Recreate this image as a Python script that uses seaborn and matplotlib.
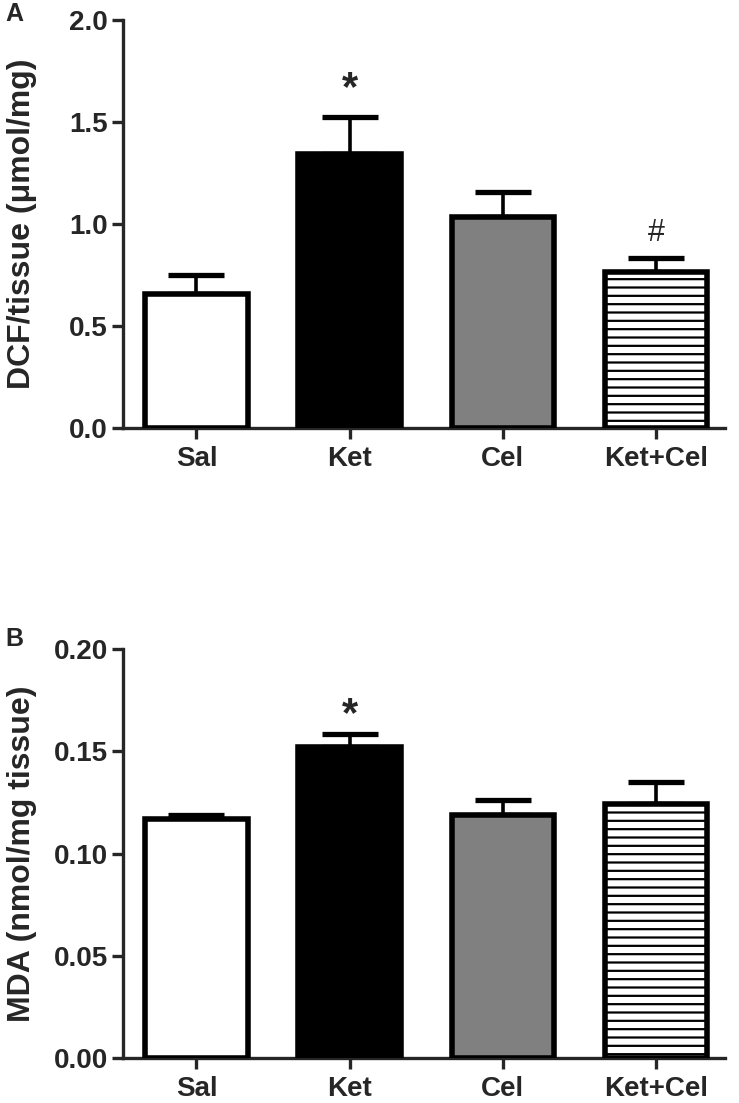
import numpy as np
import matplotlib
matplotlib.use("Agg")
import matplotlib.pyplot as plt
import seaborn as sns

groups = ["Sal", "Ket", "Cel", "Ket+Cel"]
bar_colors = ["white", "black", "#808080", "white"]

dcf_mean = [0.655, 1.343, 1.035, 0.765]
dcf_sem = [0.095, 0.183, 0.120, 0.067]
dcf_ticks = [0.0, 0.5, 1.0, 1.5, 2.0]

mda_mean = [0.117, 0.152, 0.119, 0.124]
mda_sem = [0.002, 0.0065, 0.007, 0.011]
mda_ticks = [0.00, 0.05, 0.10, 0.15, 0.20]

sns.set_style("ticks")
plt.rcParams["font.family"] = ["Liberation Sans", "DejaVu Sans"]
plt.rcParams["font.weight"] = "bold"
plt.rcParams["hatch.color"] = "black"
plt.rcParams["hatch.linewidth"] = 1.6


def draw_panel(ax, means, sems, yticks, ylabel, fmt, marks):
    sns.barplot(x=groups, y=means, hue=groups, palette=bar_colors, width=0.67,
                edgecolor="black", linewidth=4.0, legend=False, ax=ax, zorder=3)
    ax.patches[3].set_hatch("--")
    ax.errorbar(range(len(groups)), means, yerr=[np.zeros(len(sems)), sems],
                fmt="none", ecolor="black", elinewidth=2.6, capsize=20,
                capthick=3.8, zorder=2)
    ax.set_xlim(-0.48, 3.45)
    ax.set_ylim(yticks[0], yticks[-1])
    ax.set_yticks(yticks)
    ax.set_yticklabels([fmt.format(t) for t in yticks])
    sns.despine(ax=ax)
    for side in ["left", "bottom"]:
        ax.spines[side].set_linewidth(2.4)
    ax.tick_params(axis="both", direction="out", length=8, width=2.4,
                   labelsize=20, pad=3)
    ax.tick_params(axis="x", pad=5)
    for lab in ax.get_xticklabels() + ax.get_yticklabels():
        lab.set_fontweight("bold")
    ax.set_ylabel(ylabel, fontsize=23, fontweight="bold")
    ax.yaxis.set_label_coords(-0.142, 0.5)
    ax.set_xlabel("")
    for xi, yi, s, fs in marks:
        ax.text(xi, yi, s, ha="center", va="center", fontsize=fs,
                fontweight="bold" if s == "*" else "normal")


fig = plt.figure(figsize=(7.39, 11.03), dpi=100)
ax_a = fig.add_axes([0.1664, 0.6120, 0.8146, 0.3699])
ax_b = fig.add_axes([0.1664, 0.0408, 0.8146, 0.3708])

draw_panel(ax_a, dcf_mean, dcf_sem, dcf_ticks, "DCF/tissue (μmol/mg)", "{:.1f}",
           [(1, 1.66, "*", 30), (3, 0.955, "#", 22)])
draw_panel(ax_b, mda_mean, mda_sem, mda_ticks, "MDA (nmol/mg tissue)", "{:.2f}",
           [(1, 0.1675, "*", 30)])

fig.text(0.007, 0.987, "A", fontsize=18, fontweight="bold", va="center")
fig.text(0.007, 0.4207, "B", fontsize=18, fontweight="bold", va="center")

fig.savefig("out.png", dpi=100, facecolor="white")
